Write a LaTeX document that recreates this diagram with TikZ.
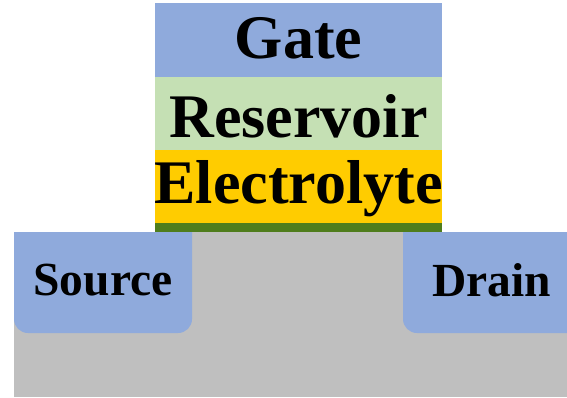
\documentclass[tikz,border=0pt]{standalone}
\usepackage{fontspec}
\setmainfont{Liberation Serif}
\definecolor{layblue}{HTML}{8FAADC}
\definecolor{laylgreen}{HTML}{C5E0B4}
\definecolor{layyellow}{HTML}{FFCC00}
\definecolor{laydgreen}{HTML}{4F7D1C}
\definecolor{laygray}{HTML}{BFBFBF}
\tikzset{
  biglbl/.style={anchor=base, inner sep=0pt, font=\bfseries\fontsize{62}{62}\selectfont},
  smalllbl/.style={anchor=base, inner sep=0pt, font=\bfseries\fontsize{47.5}{47.5}\selectfont}
}
\begin{document}
\begin{tikzpicture}[x=1pt,y=-1pt]
\useasboundingbox (0,0) rectangle (567,397);
% substrate
\fill[laygray] (14,232) rectangle (567,397);
% source / drain
\begin{scope}
  \clip (0,232) rectangle (567,397);
  \fill[layblue, rounded corners=14pt] (14,200) rectangle (192,333);
  \fill[layblue, rounded corners=14pt] (403,200) rectangle (600,333);
\end{scope}
% gate stack
\fill[layblue] (155,3) rectangle (442,77);
\fill[laylgreen] (155,77) rectangle (442,150);
\fill[layyellow] (155,150) rectangle (442,223);
\fill[laydgreen] (155,223) rectangle (442,232);
% labels
\node[biglbl] (gate) at (298.5,58) {Gate};
\node[biglbl] (reservoir) at (298.5,137) {Reservoir};
\node[biglbl] (electrolyte) at (298.5,203) {Electrolyte};
\node[smalllbl] (source) at (103,295) {Source};
\node[smalllbl] (drain) at (491.5,296) {Drain};
\end{tikzpicture}
\end{document}
